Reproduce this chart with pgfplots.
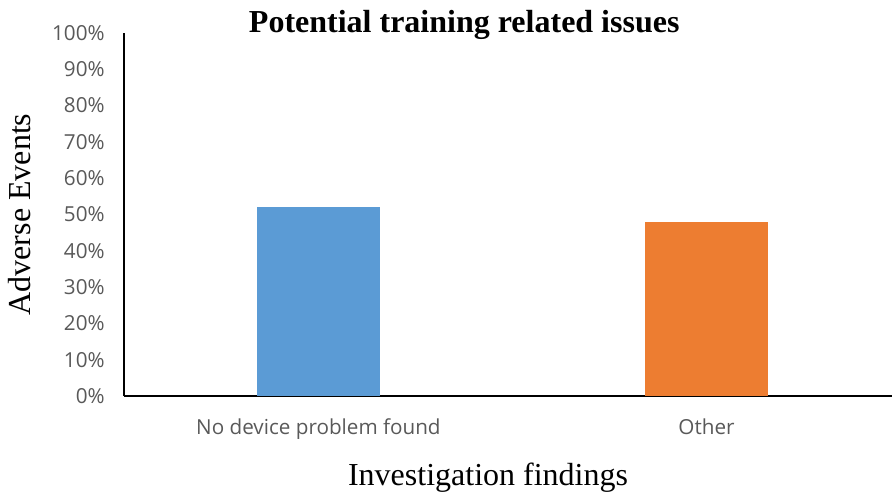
\documentclass[border=0pt]{standalone}
\usepackage{pgfplots}
\pgfplotsset{compat=1.18}
\usepackage{fontspec}
\setmainfont{Liberation Serif}
\newfontfamily\tickfont{Open Sans}
\definecolor{barblue}{HTML}{5B9BD5}
\definecolor{barorange}{HTML}{ED7D31}
\definecolor{ticktext}{HTML}{595959}
\begin{document}
\begin{tikzpicture}
\useasboundingbox (-93pt,-75pt) rectangle (576pt,297pt);
\begin{axis}[
  at={(0pt,0pt)}, anchor=south west,
  scale only axis,
  width=576pt, height=272.25pt,
  xmin=-0.501, xmax=1.478,
  ymin=0, ymax=100,
  axis x line=bottom, axis y line=left,
  axis line style={-, line width=1.4pt, black},
  ytick={0,10,...,100},
  xtick={0,1},
  xticklabels={No device problem found, Other},
  major tick length=0pt,
  tick style={draw=none},
  /pgf/number format/assume math mode=true,
  yticklabel={\pgfmathprintnumber{\tick}\%},
  ticklabel style={font=\tickfont\fontsize{15.5pt}{18pt}\selectfont, text=ticktext},
  yticklabel style={xshift=-11pt},
  xticklabel style={yshift=-13.5pt},
  ybar, bar width=0.317, bar shift=0pt,
  clip=false,
]
\addplot[draw=none, fill=barblue] coordinates {(0,52)};
\addplot[draw=none, fill=barorange] coordinates {(1,48)};
\node[anchor=base, font=\bfseries\fontsize{24pt}{28pt}\selectfont] at (rel axis cs:0.443,1) {Potential training related issues};
\node[anchor=base, font=\fontsize{24pt}{28pt}\selectfont] at ([yshift=-66.75pt]rel axis cs:0.474,0) {Investigation findings};
\node[anchor=center, rotate=90, font=\fontsize{24pt}{28pt}\selectfont] at ([xshift=-78pt]rel axis cs:0,0.5) {Adverse Events};
\end{axis}
\end{tikzpicture}
\end{document}
